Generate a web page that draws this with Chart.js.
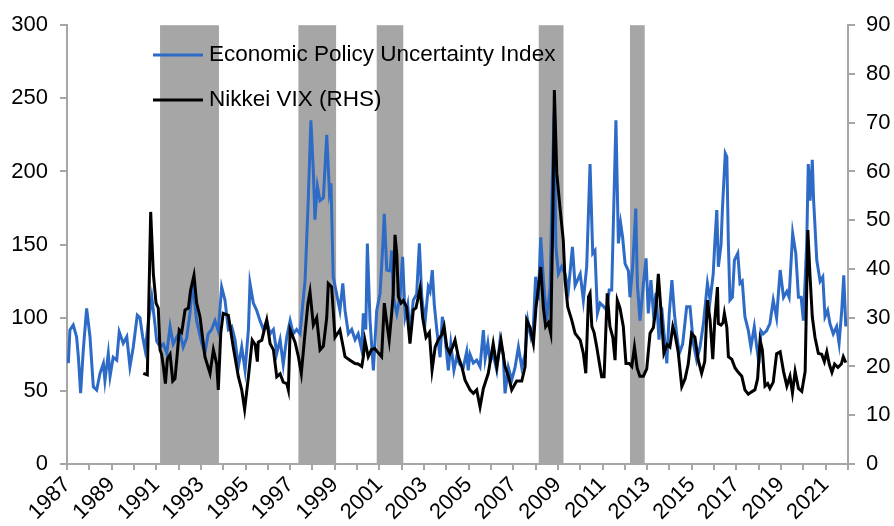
<!DOCTYPE html>
<html>
<head>
<meta charset="utf-8">
<script src="https://cdn.jsdelivr.net/npm/chart.js@4.4.1/dist/chart.umd.min.js"></script>
<style>
  html, body { margin: 0; padding: 0; background: #fff; }
  #wrap { width: 894px; height: 526px; }
</style>
</head>
<body>
<div id="wrap"><canvas id="chart" width="894" height="526"></canvas></div>
<script>
// Economic Policy Uncertainty Index (left axis)
const epuDates = [1987.06, 1987.13, 1987.28, 1987.43, 1987.51, 1987.61, 1987.73, 1987.88, 1988.03, 1988.18,
  1988.33, 1988.48, 1988.63, 1988.70, 1988.85, 1988.93, 1989.07, 1989.23, 1989.34, 1989.52,
  1989.68, 1989.82, 1989.97, 1990.15, 1990.27, 1990.39, 1990.50, 1990.64, 1990.80, 1990.94,
  1991.02, 1991.17, 1991.32, 1991.47, 1991.62, 1991.76, 1991.92, 1992.06, 1992.21, 1992.36,
  1992.51, 1992.63, 1992.81, 1993.04, 1993.18, 1993.33, 1993.48, 1993.63, 1993.78, 1993.93,
  1994.08, 1994.23, 1994.38, 1994.53, 1994.68, 1994.83, 1994.98, 1995.13, 1995.20, 1995.35,
  1995.50, 1995.65, 1995.80, 1995.95, 1996.10, 1996.25, 1996.40, 1996.55, 1996.69, 1996.85,
  1997.00, 1997.14, 1997.29, 1997.44, 1997.67, 1997.81, 1997.93, 1998.04, 1998.11, 1998.22,
  1998.34, 1998.49, 1998.64, 1998.76, 1998.83, 1998.93, 1999.08, 1999.23, 1999.36, 1999.46,
  1999.61, 1999.76, 1999.91, 2000.05, 2000.21, 2000.28, 2000.39, 2000.46, 2000.58, 2000.73,
  2000.88, 2001.03, 2001.15, 2001.22, 2001.33, 2001.48, 2001.55, 2001.62, 2001.78, 2001.92,
  2002.04, 2002.15, 2002.27, 2002.37, 2002.52, 2002.67, 2002.79, 2002.90, 2003.04, 2003.19,
  2003.27, 2003.37, 2003.46, 2003.57, 2003.72, 2003.82, 2003.94, 2004.09, 2004.20, 2004.34,
  2004.46, 2004.61, 2004.76, 2004.91, 2004.98, 2005.06, 2005.21, 2005.36, 2005.51, 2005.66,
  2005.74, 2005.86, 2005.96, 2006.10, 2006.26, 2006.41, 2006.55, 2006.63, 2006.78, 2006.93,
  2007.08, 2007.23, 2007.38, 2007.53, 2007.65, 2007.79, 2007.90, 2008.00, 2008.12, 2008.23,
  2008.35, 2008.50, 2008.65, 2008.75, 2008.83, 2008.91, 2009.02, 2009.17, 2009.32, 2009.47,
  2009.65, 2009.77, 2010.00, 2010.14, 2010.29, 2010.44, 2010.56, 2010.66, 2010.77, 2010.89,
  2011.03, 2011.19, 2011.30, 2011.41, 2011.60, 2011.71, 2011.81, 2011.90, 2012.01, 2012.16,
  2012.23, 2012.35, 2012.49, 2012.56, 2012.68, 2012.83, 2012.95, 2013.05, 2013.17, 2013.28,
  2013.40, 2013.53, 2013.65, 2013.77, 2013.88, 2013.99, 2014.11, 2014.22, 2014.32, 2014.44,
  2014.59, 2014.77, 2014.92, 2015.07, 2015.22, 2015.37, 2015.52, 2015.70, 2015.82, 2015.96,
  2016.03, 2016.12, 2016.19, 2016.31, 2016.37, 2016.50, 2016.57, 2016.64, 2016.71, 2016.82,
  2016.91, 2017.06, 2017.16, 2017.26, 2017.38, 2017.53, 2017.65, 2017.80, 2017.91, 2018.01,
  2018.10, 2018.20, 2018.35, 2018.50, 2018.65, 2018.80, 2018.96, 2019.11, 2019.26, 2019.36,
  2019.52, 2019.66, 2019.78, 2019.90, 2020.00, 2020.15, 2020.22, 2020.30, 2020.40, 2020.46,
  2020.60, 2020.75, 2020.87, 2020.97, 2021.09, 2021.19, 2021.34, 2021.49, 2021.60, 2021.72,
  2021.81, 2021.90];
const epuValues = [69, 91.6, 95, 87, 73, 48.5, 78, 106.4, 87, 52.8,
  50.6, 62, 68.8, 57, 75.6, 60, 73, 71, 90.4, 82.5,
  87, 66.5, 80, 101.8, 100, 87, 78, 96, 114, 96,
  84, 80, 82, 75.6, 94, 82, 87, 90, 80, 86,
  103, 123.5, 98, 82.5, 76, 89, 92, 98, 91, 121,
  112, 92, 94, 85, 66.5, 80, 64, 92, 123.5, 110,
  105, 98, 92, 98, 89, 92, 75.6, 85, 68, 87,
  98, 89, 92, 89, 125.7, 180, 235, 200, 167, 190,
  180, 182, 225, 186, 192, 128, 116.6, 105, 123.5, 105,
  89, 92, 85, 89, 78, 103, 92, 150.8, 98, 64,
  105, 116.6, 148.6, 171, 132.6, 132, 146, 114, 103, 114,
  141.7, 100.7, 109, 89, 112, 116, 150.8, 114, 96, 121,
  118, 132.6, 109, 92, 73, 100.7, 87, 64, 82, 64,
  73, 68, 66, 76.7, 64, 75, 69, 71, 66.5, 91.6,
  72, 82.5, 70, 75, 64, 85, 75, 48.3, 66, 57.4,
  66, 80, 66, 75, 98, 87, 94, 128, 112, 155,
  125.7, 98, 121, 194, 239.7, 148.5, 130, 135, 130, 119,
  148.5, 122, 130, 112, 135, 205, 144, 146, 103, 110,
  108, 105, 119, 119, 235, 150.8, 164.5, 155, 137, 132,
  114, 135, 174.7, 123, 98, 123, 140.6, 103, 125.7, 103,
  117, 85, 107, 87, 68.8, 103, 125.7, 103, 89, 75.6,
  82, 107.5, 107.5, 82.5, 71, 80, 96, 123.5, 112, 130,
  150.8, 173.6, 134.8, 150, 173.6, 212.3, 210, 150, 112, 114,
  139.4, 144, 123.5, 125, 100.7, 91.6, 80, 93.8, 80, 68.8,
  91, 89, 91, 96, 112, 100, 132.6, 114, 118, 114,
  157.7, 144, 114, 114, 98, 150.8, 205, 180, 208, 180,
  139.4, 125, 128, 100.7, 105, 96, 89, 94, 82.5, 105,
  129, 94];

// Nikkei VIX (right axis)
const vixDates = [1990.42, 1990.60, 1990.75, 1990.87, 1990.99, 1991.09, 1991.17, 1991.24, 1991.32, 1991.41,
  1991.50, 1991.62, 1991.74, 1991.84, 1991.94, 1992.03, 1992.14, 1992.29, 1992.44, 1992.54,
  1992.69, 1992.81, 1992.96, 1993.18, 1993.41, 1993.56, 1993.71, 1993.78, 1993.89, 1994.00,
  1994.23, 1994.45, 1994.68, 1994.83, 1994.96, 1995.13, 1995.30, 1995.43, 1995.53, 1995.57,
  1995.73, 1995.95, 1996.10, 1996.25, 1996.40, 1996.55, 1996.69, 1996.85, 1996.92, 1997.00,
  1997.22, 1997.37, 1997.50, 1997.67, 1997.80, 1997.89, 1998.04, 1998.19, 1998.34, 1998.49,
  1998.64, 1998.71, 1998.86, 1999.01, 1999.23, 1999.46, 1999.68, 1999.91, 2000.05, 2000.21,
  2000.28, 2000.35, 2000.50, 2000.65, 2000.79, 2000.95, 2001.10, 2001.22, 2001.33, 2001.44,
  2001.55, 2001.62, 2001.70, 2001.78, 2001.85, 2001.97, 2002.07, 2002.22, 2002.37, 2002.52,
  2002.64, 2002.82, 2002.94, 2003.09, 2003.24, 2003.36, 2003.50, 2003.64, 2003.79, 2003.90,
  2004.02, 2004.16, 2004.28, 2004.39, 2004.54, 2004.69, 2004.84, 2005.06, 2005.21, 2005.36,
  2005.51, 2005.66, 2005.88, 2006.10, 2006.26, 2006.45, 2006.63, 2006.78, 2006.93, 2007.15,
  2007.38, 2007.53, 2007.60, 2007.75, 2007.90, 2008.02, 2008.12, 2008.23, 2008.35, 2008.45,
  2008.57, 2008.68, 2008.77, 2008.84, 2008.95, 2009.09, 2009.24, 2009.32, 2009.44, 2009.62,
  2009.77, 2010.00, 2010.14, 2010.25, 2010.37, 2010.44, 2010.52, 2010.62, 2010.74, 2010.86,
  2010.96, 2011.07, 2011.21, 2011.33, 2011.46, 2011.56, 2011.66, 2011.78, 2011.93, 2012.05,
  2012.20, 2012.31, 2012.43, 2012.55, 2012.67, 2012.83, 2012.98, 2013.13, 2013.28, 2013.40,
  2013.50, 2013.61, 2013.75, 2013.90, 2014.02, 2014.15, 2014.25, 2014.39, 2014.55, 2014.70,
  2014.84, 2014.99, 2015.14, 2015.29, 2015.44, 2015.58, 2015.70, 2015.82, 2015.94, 2016.03,
  2016.15, 2016.19, 2016.31, 2016.40, 2016.46, 2016.57, 2016.64, 2016.79, 2016.94, 2017.08,
  2017.24, 2017.38, 2017.53, 2017.68, 2017.83, 2017.95, 2018.06, 2018.16, 2018.28, 2018.40,
  2018.50, 2018.65, 2018.80, 2018.96, 2019.11, 2019.26, 2019.40, 2019.51, 2019.63, 2019.78,
  2019.93, 2020.08, 2020.20, 2020.30, 2020.40, 2020.52, 2020.67, 2020.82, 2020.94, 2021.05,
  2021.16, 2021.28, 2021.40, 2021.55, 2021.70, 2021.79, 2021.90];
const vixValues = [18.6, 18.3, 51.7, 39, 33, 32, 23.4, 22.5, 20, 16.5,
  21.6, 22.5, 17, 17.5, 22.5, 27.5, 27, 31.6, 32, 35.7,
  38.7, 33, 30.2, 22, 18.6, 23.4, 20.5, 15.2, 26.8, 30.9,
  30.5, 24, 17.9, 15.2, 11.2, 17.9, 25.4, 24.5, 21, 25,
  25.4, 29.5, 24.7, 23.4, 17.9, 18.5, 16.8, 16.5, 15.2, 27.5,
  25, 22, 18.6, 27, 33, 35.3, 28.5, 30, 23.4, 24.2,
  30, 37, 36.3, 26, 27.5, 22, 21.3, 20.6, 20.5, 20,
  22, 25.4, 22, 23.5, 23.7, 22.8, 22, 33, 29, 25.4,
  30.9, 35, 47, 43, 34.3, 33, 33.5, 32.2, 24.7, 31.6,
  32, 36, 30, 26, 27, 19.3, 24, 25.5, 26.5, 28.2,
  24, 22.7, 24, 25.4, 22, 20, 17.2, 15.2, 14.5, 15.2,
  11.7, 15.5, 18.6, 24.7, 20, 25.4, 20, 18, 15.2, 17,
  17, 20, 29.5, 28, 24.7, 32.2, 36, 40.4, 32, 28.2,
  29, 26.8, 50, 76.7, 59.6, 52.7, 45.9, 37.7, 32.2, 29.5,
  26.8, 25.4, 22.7, 18.6, 34.3, 35, 28.2, 27, 24, 20.6,
  17.9, 17.9, 35, 28.2, 26, 21.3, 33.6, 32, 28.2, 20.6,
  20.6, 20, 24, 19.7, 18, 18, 19.5, 26.8, 28, 32.2,
  39, 32, 22.7, 24.5, 24, 28.2, 26.5, 23, 15.9, 17.5,
  20.5, 26.8, 26, 21.3, 18.6, 21, 33.6, 29.5, 21.5, 29.5,
  36.3, 28.8, 28.5, 29, 30.9, 28, 22, 21.5, 19.7, 18.8,
  18, 15.2, 14.3, 14.8, 15.2, 17.5, 25.4, 23.5, 16, 16.5,
  15.5, 16.8, 22.6, 23, 19, 16, 18, 14.6, 19, 15.5,
  14.9, 19, 48, 38.4, 30.2, 26, 22.7, 22.5, 21, 23,
  20.5, 18.8, 20.5, 19.8, 20.5, 22, 20.8];

// Japanese recessions (grey bands)
const recessionStarts = [1991.17, 1997.37, 2000.88, 2008.14, 2012.23];
const recessionEnds = [1993.81, 1999.06, 2002.07, 2009.25, 2012.89];

const labeledYears = [1987, 1989, 1991, 1993, 1995, 1997, 1999, 2001, 2003, 2005, 2007, 2009,
  2011, 2013, 2015, 2017, 2019, 2021];

const seriesNames = ['Economic Policy Uncertainty Index', 'Nikkei VIX (RHS)'];
const blue = '#2d6bc7';
const grey = '#a6a6a6';
const fontFamily = '"Liberation Sans", Arial, sans-serif';

const toPoints = (xs, ys) => xs.map((x, i) => ({ x: x, y: ys[i] }));

const recessionBands = {
  id: 'recessionBands',
  beforeDatasetsDraw(chart) {
    const { ctx, chartArea, scales } = chart;
    ctx.save();
    ctx.fillStyle = grey;
    recessionStarts.forEach((start, i) => {
      const x1 = scales.x.getPixelForValue(start);
      const x2 = scales.x.getPixelForValue(recessionEnds[i]);
      ctx.fillRect(x1, chartArea.top, x2 - x1, chartArea.bottom - chartArea.top);
    });
    ctx.restore();
  }
};

// legend sits inside the plot, top left, one row per series
const insideLegend = {
  id: 'insideLegend',
  afterDatasetsDraw(chart) {
    const ctx = chart.ctx;
    ctx.save();
    ctx.font = '22.5px ' + fontFamily;
    ctx.textBaseline = 'middle';
    ctx.fillStyle = '#000';
    chart.data.datasets.forEach((ds, i) => {
      const y = 55 + i * 45;
      ctx.strokeStyle = ds.borderColor;
      ctx.lineWidth = 3;
      ctx.beginPath();
      ctx.moveTo(153, y);
      ctx.lineTo(203, y);
      ctx.stroke();
      ctx.fillText(ds.label, 209, y);
    });
    ctx.restore();
  }
};

new Chart(document.getElementById('chart'), {
  type: 'line',
  data: {
    datasets: [{
      label: seriesNames[0],
      data: toPoints(epuDates, epuValues),
      borderColor: blue,
      borderWidth: 3,
      pointRadius: 0,
      tension: 0,
      yAxisID: 'yL',
      order: 1
    }, {
      label: seriesNames[1],
      data: toPoints(vixDates, vixValues),
      borderColor: '#000',
      borderWidth: 3,
      pointRadius: 0,
      tension: 0,
      yAxisID: 'yR',
      order: 0
    }]
  },
  options: {
    responsive: false,
    animation: false,
    devicePixelRatio: 1,
    layout: { padding: { top: 25, left: 0, right: 0, bottom: 0 } },
    plugins: {
      legend: { display: false },
      tooltip: { enabled: false }
    },
    scales: {
      x: {
        type: 'linear',
        min: 1987,
        max: 2022,
        afterFit: (scale) => { scale.height = 62; },
        ticks: {
          stepSize: 1,
          autoSkip: false,
          minRotation: 45,
          maxRotation: 45,
          padding: 2,
          color: '#000',
          font: { family: fontFamily, size: 22 },
          callback: (value) => labeledYears.includes(value) ? String(value) : ''
        },
        grid: { drawOnChartArea: false, drawTicks: true, tickLength: 6, color: grey, lineWidth: 2 },
        border: { color: grey, width: 2 }
      },
      yL: {
        position: 'left',
        min: 0,
        max: 300,
        afterFit: (scale) => { scale.width = 67; },
        ticks: {
          stepSize: 50,
          padding: 12,
          color: '#000',
          font: { family: fontFamily, size: 22 }
        },
        grid: { drawOnChartArea: false, drawTicks: true, tickLength: 7, color: grey, lineWidth: 2 },
        border: { color: grey, width: 2 }
      },
      yR: {
        position: 'right',
        min: 0,
        max: 90,
        afterFit: (scale) => { scale.width = 46; },
        ticks: {
          stepSize: 10,
          padding: 11,
          color: '#000',
          font: { family: fontFamily, size: 22 }
        },
        grid: { drawOnChartArea: false, drawTicks: true, tickLength: 7, color: grey, lineWidth: 2 },
        border: { color: grey, width: 2 }
      }
    }
  },
  plugins: [recessionBands, insideLegend]
});
</script>
</body>
</html>
